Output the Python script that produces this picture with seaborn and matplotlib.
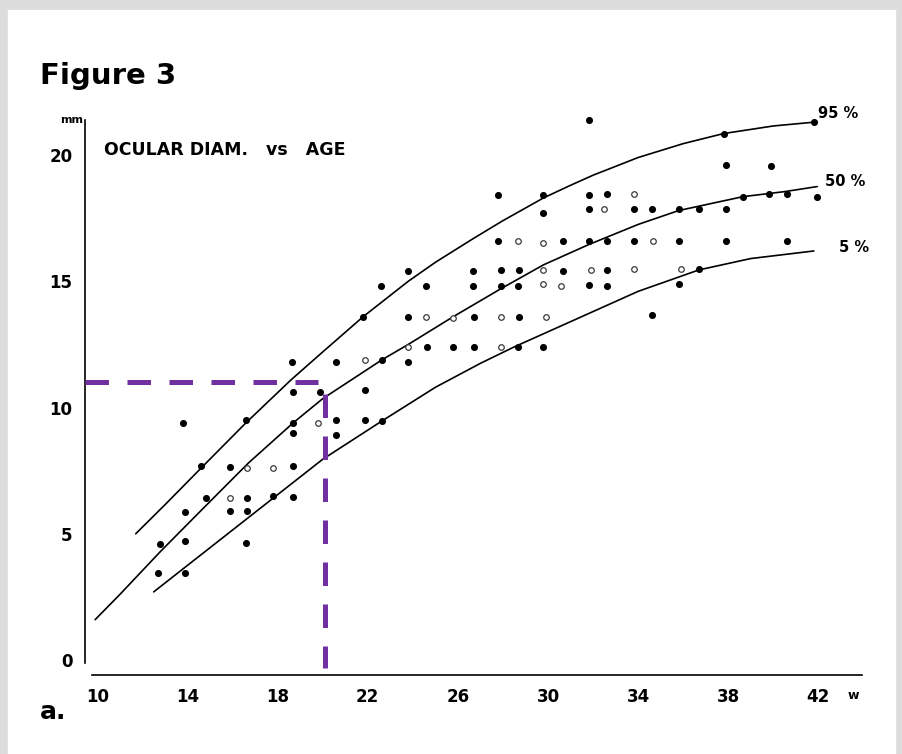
import numpy as np
import pandas as pd
import matplotlib
matplotlib.use('Agg')
import matplotlib.pyplot as plt
from matplotlib.patches import Rectangle
import seaborn as sns

# filled dots (weeks, mm)
filled_weeks = [13.8, 16.6, 18.7, 20.6, 18.7, 20.6, 14.6, 15.9, 18.7, 14.8,
                16.65, 17.8, 18.7, 13.9, 15.9, 16.65, 12.8, 13.9, 16.6, 12.7,
                13.9, 23.8, 26.65, 22.6, 24.6, 26.65, 21.8, 23.8, 26.7, 24.65,
                25.8, 26.7, 18.65, 20.6, 22.65, 23.8, 18.7, 19.9, 21.9, 21.9,
                22.65, 27.8, 29.8, 31.8, 32.6, 29.8, 31.8, 33.8, 27.8, 30.65,
                31.8, 32.6, 33.8, 27.9, 28.7, 30.65, 32.6, 27.9, 28.65, 31.8,
                32.6, 28.7, 28.65, 29.8, 34.6, 37.8, 41.8, 37.9, 39.9, 34.6,
                35.8, 36.7, 37.9, 38.65, 39.8, 40.6, 41.95, 35.8, 37.9, 40.6,
                36.7, 35.8, 31.8]
filled_mm = [9.4, 9.5, 9.4, 9.5, 9.0, 8.9, 7.7, 7.65, 7.7, 6.4,
             6.4, 6.5, 6.45, 5.85, 5.9, 5.9, 4.6, 4.7, 4.65, 3.46,
             3.46, 15.4, 15.4, 14.8, 14.8, 14.8, 13.6, 13.6, 13.6, 12.4,
             12.4, 12.4, 11.8, 11.8, 11.9, 11.8, 10.6, 10.6, 10.7, 9.5,
             9.45, 18.4, 18.4, 18.4, 18.45, 17.7, 17.85, 17.85, 16.6, 16.6,
             16.6, 16.6, 16.6, 15.45, 15.45, 15.4, 15.45, 14.8, 14.8, 14.85,
             14.8, 13.6, 12.4, 12.4, 13.65, 20.85, 21.3, 19.6, 19.55, 17.85,
             17.85, 17.85, 17.85, 18.35, 18.45, 18.45, 18.35, 16.6, 16.6, 16.6,
             15.5, 14.9, 21.4]

# open circles (weeks, mm)
open_weeks = [19.8, 16.65, 17.8, 15.9, 24.6, 25.8, 23.8, 21.9, 33.8, 32.5,
              28.65, 29.8, 29.8, 31.9, 33.8, 29.8, 30.6, 27.9, 29.9, 27.9,
              34.65, 35.9]
open_mm = [9.4, 7.6, 7.6, 6.4, 13.6, 13.55, 12.4, 11.9, 18.45, 17.85,
           16.6, 16.5, 15.45, 15.45, 15.5, 14.9, 14.8, 13.6, 13.6, 12.4,
           16.6, 15.5]

# percentile curves
p95_weeks = [11.7, 13.0, 14.6, 16.6, 18.6, 20.0, 21.8, 23.8, 25.0, 26.7,
             28.0, 29.8, 31.0, 32.0, 34.0, 36.0, 37.8, 40.0, 41.8]
p95_mm = [5.0, 6.15, 7.6, 9.4, 11.1, 12.2, 13.6, 15.0, 15.75, 16.7,
          17.4, 18.3, 18.8, 19.2, 19.9, 20.45, 20.85, 21.15, 21.3]
p50_weeks = [9.9, 11.0, 12.8, 14.8, 16.7, 18.7, 20.0, 22.65, 23.8, 25.8,
             27.9, 29.8, 31.8, 34.0, 35.8, 38.65, 40.5, 41.95]
p50_mm = [1.6, 2.6, 4.3, 6.1, 7.8, 9.4, 10.35, 11.9, 12.5, 13.6,
          14.7, 15.65, 16.45, 17.25, 17.8, 18.35, 18.55, 18.75]
p5_weeks = [12.5, 14.0, 16.0, 18.0, 20.0, 22.6, 25.0, 27.0, 28.5, 30.0,
            32.0, 34.0, 36.7, 39.0, 41.8]
p5_mm = [2.7, 3.75, 5.15, 6.55, 7.95, 9.45, 10.8, 11.75, 12.4, 13.0,
         13.8, 14.6, 15.45, 15.9, 16.2]

# purple reading guide
guide_h_x = [9.45, 19.8]
guide_h_y = [11.0, 11.0]
guide_v_x = [20.1, 20.1]
guide_v_y = [10.55, -0.3]

x_ticks = [10, 14, 18, 22, 26, 30, 34, 38, 42]
y_ticks = [0, 5, 10, 15, 20]

sns.set_style('white')
plt.rcParams['font.family'] = ['DejaVu Sans']
plt.rcParams['text.color'] = 'black'
plt.rcParams['xtick.color'] = 'black'
plt.rcParams['ytick.color'] = 'black'

fig = plt.figure(figsize=(9.03, 7.54), dpi=100, facecolor='#dcdcdc')
fig.patches.append(Rectangle((8 / 903, 0), 887 / 903, 744 / 754,
                             transform=fig.transFigure, color='white', zorder=-5))
ax = fig.add_axes([85 / 903, 0.1045, 0.862, 0.7435])
ax.set_zorder(2)
ax.set_facecolor('none')

curves = [(p95_weeks, p95_mm), (p50_weeks, p50_mm), (p5_weeks, p5_mm)]
for cw, cm in curves:
    sns.lineplot(x=cw, y=cm, ax=ax, color='black', linewidth=1.2,
                 estimator=None, sort=False)

filled = pd.DataFrame({'week': filled_weeks, 'mm': filled_mm})
opened = pd.DataFrame({'week': open_weeks, 'mm': open_mm})
sns.scatterplot(data=filled, x='week', y='mm', ax=ax, color='black',
                s=26, linewidth=0, zorder=3)
sns.scatterplot(data=opened, x='week', y='mm', ax=ax, color='white',
                edgecolor='#3a3a3a', s=16, linewidth=0.9, zorder=3)

purple = '#7030a0'
for gx, gy in [(guide_h_x, guide_h_y), (guide_v_x, guide_v_y)]:
    ax.plot(gx, gy, color=purple, linewidth=3.6, dashes=(4.7, 3.7),
            solid_capstyle='butt', dash_capstyle='butt', zorder=4)

ax.set_xlim(9.45, 44.0)
ax.set_ylim(-0.6, 21.6)
ax.set_xticks(x_ticks)
ax.set_xticks(np.arange(10, 44, 2), minor=True)
ax.set_yticks(y_ticks)
ax.set_xticklabels([str(t) for t in x_ticks], fontsize=12, fontweight='bold')
ax.set_yticklabels([str(t) for t in y_ticks], fontsize=12, fontweight='bold')
ax.tick_params(axis='both', which='major', direction='out', length=3,
               width=1, color='black', pad=6)
ax.tick_params(axis='x', which='minor', direction='out', length=2, width=1)
ax.set_xlabel('')
ax.set_ylabel('')

sns.despine(ax=ax)
for side in ['left', 'bottom']:
    ax.spines[side].set_color('black')
    ax.spines[side].set_linewidth(1.2)
ax.spines['left'].set_bounds(-0.1, 21.4)
ax.spines['bottom'].set_bounds(9.75, 43.96)

ax.text(9.35, 21.4, 'mm', fontsize=8, fontweight='bold', ha='right', va='center')
ax.text(43.3, -1.4, 'w', fontsize=9, fontweight='bold', ha='left', va='center')
ax.text(10.3, 20.2, 'OCULAR DIAM.   vs   AGE', fontsize=12.5, fontweight='bold',
        ha='left', va='center')
ax.text(42.0, 21.65, '95 %', fontsize=10.5, fontweight='bold', ha='left', va='center')
ax.text(42.3, 18.95, '50 %', fontsize=10.5, fontweight='bold', ha='left', va='center')
ax.text(42.9, 16.35, '5 %', fontsize=10.5, fontweight='bold', ha='left', va='center')

fig.text(40 / 903, 1 - 76 / 754, 'Figure 3', fontsize=21, fontweight='bold',
         ha='left', va='center')
fig.text(40 / 903, 1 - 712 / 754, 'a.', fontsize=18, fontweight='bold',
         ha='left', va='center')

fig.savefig('out.png', dpi=100, facecolor=fig.get_facecolor())
